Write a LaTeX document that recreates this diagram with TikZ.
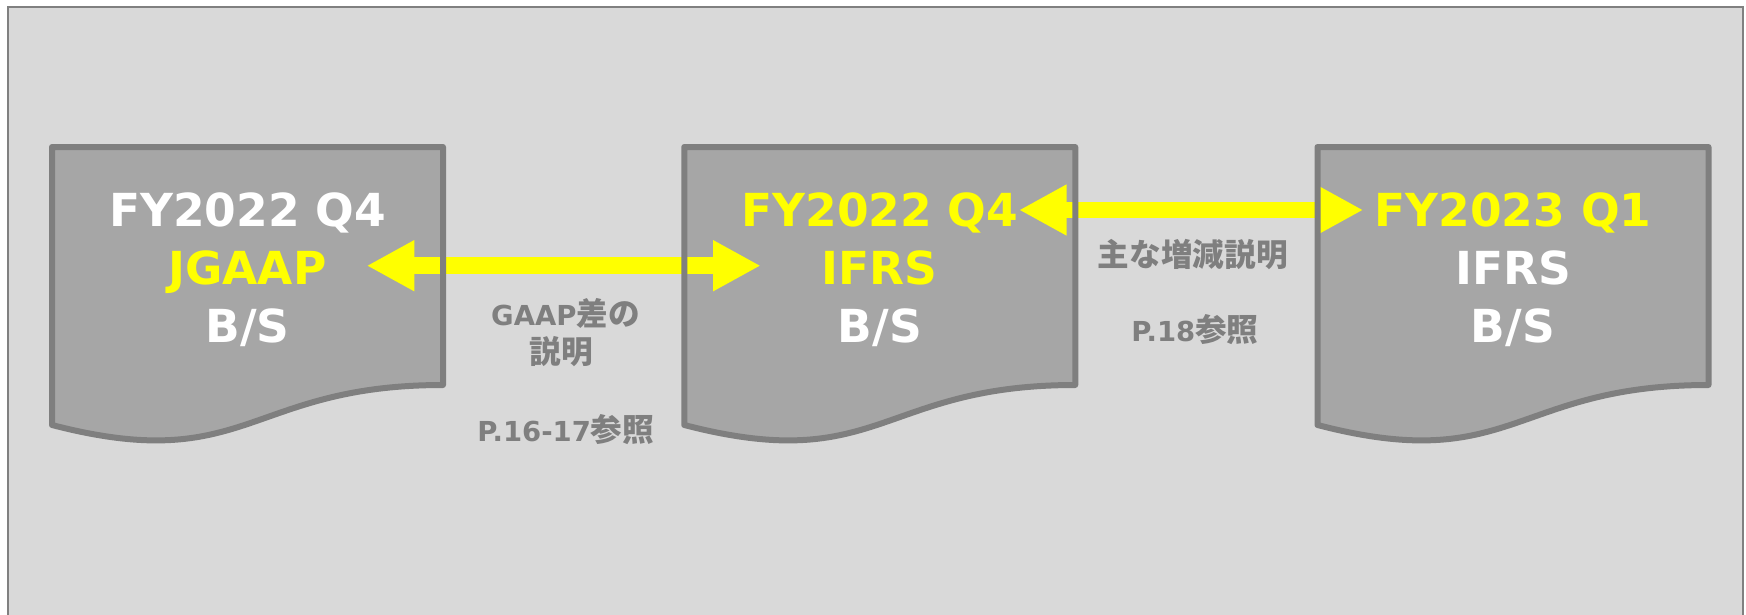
\documentclass[tikz,border=0pt]{standalone}
\usepackage{fontspec}
\setmainfont{DejaVu Sans}
\newfontfamily\cjk{Noto Sans CJK JP}[Scale=1.15]
\usetikzlibrary{arrows.meta}
\definecolor{bgc}{HTML}{D9D9D9}
\definecolor{framec}{HTML}{808080}
\definecolor{docfillc}{HTML}{A6A6A6}
\definecolor{docedgec}{HTML}{7F7F7F}
\definecolor{labc}{HTML}{7F7F7F}
\definecolor{yel}{HTML}{FFFF00}
\tikzset{
  docbody/.pic={\fill[docfillc] (-195.5,0) -- (195.5,0) -- (195.5,238) .. controls (0,238) and (0,328.7) .. (-195.5,278) -- cycle;},
  docedge/.pic={\draw[docedgec, line width=6pt, line join=round] (-195.5,0) -- (195.5,0) -- (195.5,238) .. controls (0,238) and (0,328.7) .. (-195.5,278) -- cycle;},
  doctext/.style={anchor=base, inner sep=0pt, font=\bfseries\fontsize{45.5}{53}\selectfont},
  labtext/.style={anchor=base, inner sep=0pt, text=labc, font=\bfseries\fontsize{27.5}{32}\selectfont},
  yarrow/.style={draw=yel, line width=16.7pt, {Triangle[length=47.6pt,width=47.6pt]}-{Triangle[length=47.6pt,width=47.6pt]}}
}
\begin{document}
\begin{tikzpicture}[x=1pt,y=-1pt]
\useasboundingbox (0,0) rectangle (1746,614);
\clip (0,0) rectangle (1746,614);
\fill[white] (0,0) rectangle (1746,614);
\filldraw[fill=bgc, draw=framec, line width=2pt] (8,7) rectangle (1742.5,700);
% document bodies
\pic at (247.5,147) {docbody};
\pic at (879.75,147) {docbody};
\pic at (1513,147) {docbody};
% arrows
\coordinate (a1l) at (366.7,265.7);
\coordinate (a1r) at (760.7,265.7);
\coordinate (a2l) at (1019,210);
\coordinate (a2r) at (1363.3,210);
\draw[yarrow] (a1l) -- (a1r);
\draw[yarrow] (a2l) -- (a2r);
% document edges
\pic at (247.5,147) {docedge};
\pic at (879.75,147) {docedge};
\pic at (1513,147) {docedge};
% document texts
\node[doctext, text=white] (d1a) at (247.5,226) {FY2022 Q4};
\node[doctext, text=yel]   (d1b) at (247.5,284) {JGAAP};
\node[doctext, text=white] (d1c) at (247.5,342) {B/S};
\node[doctext, text=yel]   (d2a) at (879.75,226) {FY2022 Q4};
\node[doctext, text=yel]   (d2b) at (879.75,284) {IFRS};
\node[doctext, text=white] (d2c) at (879.75,342) {B/S};
\node[doctext, text=yel]   (d3a) at (1513,226) {FY2023 Q1};
\node[doctext, text=white] (d3b) at (1513,284) {IFRS};
\node[doctext, text=white] (d3c) at (1513,342) {B/S};
% labels
\node[labtext] (l1a) at (565.5,325) {GAAP{\cjk 差の}};
\node[labtext] (l1b) at (561,363) {{\cjk 説明}};
\node[labtext] (l1c) at (565.8,441.7) {P.16-17{\cjk 参照}};
\node[labtext] (l2a) at (1192.8,266) {{\cjk 主な増減説明}};
\node[labtext] (l2b) at (1195,341.7) {P.18{\cjk 参照}};
\end{tikzpicture}
\end{document}
